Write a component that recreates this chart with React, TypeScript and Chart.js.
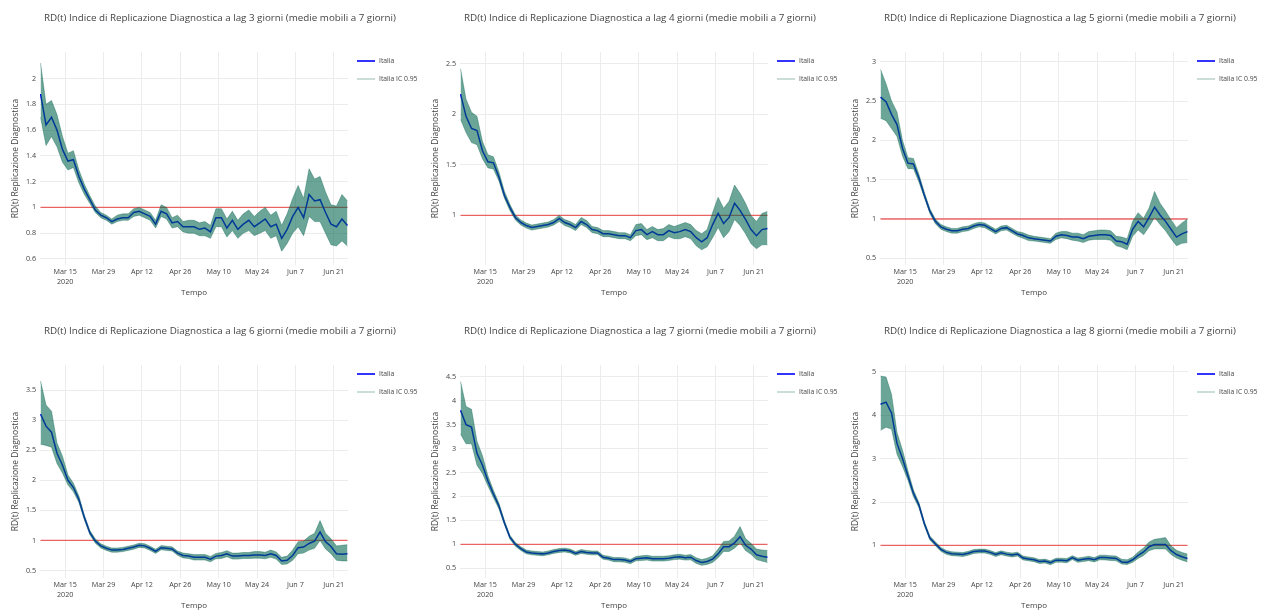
import React, { useEffect, useRef } from "react";
import { Chart, registerables } from "chart.js";

Chart.register(...registerables);

const FONT = '"Open Sans", "Liberation Sans", Arial, sans-serif';
const TEXT = "#444";
const GRID = "#ececec";
const LINE_BLUE = "rgb(0,0,255)";
const BAND_FILL = "rgba(0,100,75,0.58)";
const BAND_EDGE = "rgba(0,95,75,0.45)";
const BAND_LEGEND = "rgba(120,170,150,0.6)";
const REF_RED = "rgba(235,40,40,0.7)";

// Sampled dates (every second day) of the 7-day moving averages
const dates = [
  "2020-03-06", "2020-03-08", "2020-03-10", "2020-03-12", "2020-03-14", "2020-03-16", "2020-03-18",
  "2020-03-20", "2020-03-22", "2020-03-24", "2020-03-26", "2020-03-28", "2020-03-30",
  "2020-04-01", "2020-04-03", "2020-04-05", "2020-04-07", "2020-04-09", "2020-04-11", "2020-04-13",
  "2020-04-15", "2020-04-17", "2020-04-19", "2020-04-21", "2020-04-23", "2020-04-25", "2020-04-27", "2020-04-29",
  "2020-05-01", "2020-05-03", "2020-05-05", "2020-05-07", "2020-05-09", "2020-05-11", "2020-05-13", "2020-05-15",
  "2020-05-17", "2020-05-19", "2020-05-21", "2020-05-23", "2020-05-25", "2020-05-27", "2020-05-29", "2020-05-31",
  "2020-06-02", "2020-06-04", "2020-06-06", "2020-06-08", "2020-06-10", "2020-06-12", "2020-06-14",
  "2020-06-16", "2020-06-18", "2020-06-20", "2020-06-22", "2020-06-24", "2020-06-26",
];

const xTickDates = ["2020-03-15", "2020-03-29", "2020-04-12", "2020-04-26", "2020-05-10", "2020-05-24", "2020-06-07", "2020-06-21"];
const xTickLabels: (string | string[])[] = [["Mar 15", "2020"], "Mar 29", "Apr 12", "Apr 26", "May 10", "May 24", "Jun 7", "Jun 21"];

// lag 3
const lag3Mean = [1.88, 1.64, 1.70, 1.60, 1.45, 1.36, 1.37, 1.24, 1.14, 1.06, 0.98, 0.94, 0.92,
  0.89, 0.91, 0.92, 0.92, 0.96, 0.97, 0.95, 0.93, 0.87, 0.97, 0.95, 0.88, 0.89, 0.85, 0.85,
  0.85, 0.83, 0.84, 0.81, 0.92, 0.92, 0.84, 0.90, 0.83, 0.87, 0.90, 0.85, 0.88, 0.91, 0.85, 0.87,
  0.76, 0.83, 0.93, 1.00, 0.92, 1.10, 1.05, 1.06, 0.96, 0.87, 0.85, 0.91, 0.86];
const lag3Low = [1.70, 1.48, 1.55, 1.47, 1.35, 1.29, 1.31, 1.19, 1.10, 1.03, 0.96, 0.92, 0.90,
  0.87, 0.89, 0.90, 0.90, 0.93, 0.94, 0.92, 0.90, 0.84, 0.93, 0.91, 0.84, 0.85, 0.81, 0.80,
  0.80, 0.78, 0.78, 0.76, 0.85, 0.85, 0.77, 0.82, 0.76, 0.80, 0.82, 0.78, 0.80, 0.82, 0.76, 0.78,
  0.66, 0.72, 0.80, 0.85, 0.78, 0.93, 0.89, 0.89, 0.80, 0.71, 0.70, 0.74, 0.70];
const lag3High = [2.12, 1.80, 1.83, 1.72, 1.55, 1.42, 1.44, 1.29, 1.18, 1.09, 1.01, 0.96, 0.94,
  0.91, 0.94, 0.95, 0.95, 0.99, 1.00, 0.98, 0.96, 0.90, 1.02, 1.00, 0.92, 0.94, 0.89, 0.90,
  0.90, 0.88, 0.89, 0.86, 0.99, 0.99, 0.91, 0.97, 0.90, 0.95, 0.98, 0.93, 0.97, 1.00, 0.94, 0.97,
  0.86, 0.95, 1.07, 1.17, 1.07, 1.30, 1.22, 1.24, 1.12, 1.02, 1.01, 1.10, 1.05];
const lag3YTicks = [0.6, 0.8, 1, 1.2, 1.4, 1.6, 1.8, 2];
const lag3YRange = [0.553, 2.206];

// lag 4
const lag4Mean = [2.20, 1.98, 1.86, 1.84, 1.64, 1.53, 1.52, 1.38, 1.20, 1.08, 0.98, 0.93, 0.90,
  0.88, 0.89, 0.90, 0.91, 0.93, 0.97, 0.93, 0.91, 0.88, 0.94, 0.91, 0.86, 0.85, 0.82, 0.82,
  0.81, 0.80, 0.80, 0.78, 0.85, 0.86, 0.81, 0.84, 0.81, 0.81, 0.85, 0.83, 0.84, 0.86, 0.84, 0.78,
  0.74, 0.78, 0.91, 1.02, 0.92, 0.98, 1.12, 1.05, 0.96, 0.86, 0.80, 0.86, 0.87];
const lag4Low = [1.95, 1.82, 1.72, 1.70, 1.56, 1.47, 1.46, 1.34, 1.17, 1.05, 0.955, 0.905, 0.875,
  0.855, 0.865, 0.875, 0.885, 0.905, 0.94, 0.90, 0.88, 0.85, 0.91, 0.88, 0.83, 0.82, 0.79, 0.79,
  0.78, 0.77, 0.77, 0.75, 0.80, 0.81, 0.76, 0.78, 0.75, 0.75, 0.79, 0.77, 0.77, 0.79, 0.77, 0.70,
  0.66, 0.69, 0.78, 0.88, 0.78, 0.84, 0.96, 0.90, 0.82, 0.72, 0.67, 0.71, 0.71];
const lag4High = [2.45, 2.15, 2.02, 1.98, 1.73, 1.60, 1.58, 1.43, 1.24, 1.11, 1.005, 0.955, 0.925,
  0.905, 0.915, 0.925, 0.935, 0.96, 1.00, 0.96, 0.94, 0.91, 0.98, 0.95, 0.89, 0.88, 0.85, 0.85,
  0.84, 0.83, 0.83, 0.81, 0.91, 0.92, 0.86, 0.89, 0.86, 0.87, 0.91, 0.89, 0.91, 0.93, 0.91, 0.85,
  0.82, 0.86, 1.03, 1.18, 1.07, 1.14, 1.30, 1.22, 1.12, 1.00, 0.94, 1.02, 1.04];
const lag4YTicks = [1, 1.5, 2, 2.5];
const lag4YRange = [0.51, 2.616];

// lag 5
const lag5Mean = [2.55, 2.49, 2.33, 2.20, 1.90, 1.71, 1.70, 1.52, 1.30, 1.10, 0.97, 0.90, 0.87,
  0.85, 0.85, 0.87, 0.88, 0.91, 0.93, 0.92, 0.88, 0.84, 0.88, 0.89, 0.85, 0.81, 0.79, 0.76,
  0.75, 0.74, 0.73, 0.72, 0.78, 0.80, 0.79, 0.77, 0.77, 0.75, 0.78, 0.79, 0.80, 0.80, 0.79, 0.72,
  0.71, 0.68, 0.87, 0.97, 0.90, 1.02, 1.15, 1.05, 0.97, 0.87, 0.77, 0.81, 0.84];
const lag5Low = [2.28, 2.25, 2.15, 2.05, 1.80, 1.64, 1.64, 1.47, 1.27, 1.07, 0.94, 0.87, 0.84,
  0.82, 0.82, 0.84, 0.85, 0.88, 0.90, 0.89, 0.85, 0.81, 0.85, 0.86, 0.82, 0.78, 0.755, 0.725,
  0.72, 0.71, 0.70, 0.69, 0.74, 0.76, 0.75, 0.73, 0.72, 0.70, 0.73, 0.74, 0.74, 0.74, 0.73, 0.66,
  0.64, 0.61, 0.78, 0.86, 0.80, 0.90, 1.02, 0.93, 0.85, 0.75, 0.66, 0.69, 0.70];
const lag5High = [2.90, 2.72, 2.50, 2.36, 2.00, 1.78, 1.77, 1.57, 1.34, 1.13, 1.00, 0.93, 0.90,
  0.88, 0.88, 0.90, 0.91, 0.94, 0.96, 0.95, 0.91, 0.87, 0.91, 0.92, 0.88, 0.84, 0.825, 0.795,
  0.78, 0.77, 0.76, 0.75, 0.82, 0.84, 0.84, 0.82, 0.82, 0.80, 0.84, 0.85, 0.86, 0.86, 0.85, 0.78,
  0.77, 0.75, 0.97, 1.08, 1.01, 1.14, 1.35, 1.20, 1.10, 0.99, 0.89, 0.95, 1.00];
const lag5YTicks = [0.5, 1, 1.5, 2, 2.5, 3];
const lag5YRange = [0.415, 3.123];

// lag 6
const lag6Mean = [3.10, 2.90, 2.80, 2.45, 2.25, 2.00, 1.88, 1.68, 1.38, 1.13, 0.99, 0.91, 0.87,
  0.84, 0.84, 0.85, 0.87, 0.89, 0.92, 0.91, 0.87, 0.82, 0.88, 0.87, 0.86, 0.79, 0.75, 0.74,
  0.72, 0.72, 0.72, 0.69, 0.74, 0.75, 0.78, 0.74, 0.74, 0.75, 0.75, 0.76, 0.76, 0.75, 0.78, 0.75,
  0.66, 0.67, 0.75, 0.88, 0.89, 0.95, 0.99, 1.14, 0.98, 0.90, 0.78, 0.77, 0.78];
const lag6Low = [2.60, 2.58, 2.55, 2.28, 2.12, 1.92, 1.81, 1.63, 1.34, 1.095, 0.955, 0.875, 0.835,
  0.805, 0.805, 0.815, 0.835, 0.855, 0.885, 0.875, 0.835, 0.785, 0.845, 0.835, 0.825, 0.755, 0.71, 0.70,
  0.675, 0.675, 0.675, 0.645, 0.695, 0.70, 0.73, 0.69, 0.69, 0.70, 0.70, 0.705, 0.705, 0.695, 0.72, 0.69,
  0.60, 0.61, 0.67, 0.78, 0.79, 0.84, 0.87, 1.00, 0.86, 0.78, 0.67, 0.66, 0.66];
const lag6High = [3.65, 3.25, 3.15, 2.62, 2.40, 2.09, 1.95, 1.74, 1.42, 1.165, 1.025, 0.945, 0.905,
  0.875, 0.875, 0.885, 0.905, 0.925, 0.955, 0.945, 0.905, 0.855, 0.915, 0.905, 0.895, 0.825, 0.79, 0.78,
  0.765, 0.765, 0.765, 0.735, 0.785, 0.80, 0.83, 0.79, 0.79, 0.80, 0.80, 0.815, 0.815, 0.805, 0.84, 0.81,
  0.72, 0.74, 0.84, 0.98, 0.99, 1.07, 1.12, 1.33, 1.12, 1.03, 0.91, 0.92, 0.93];
const lag6YTicks = [0.5, 1, 1.5, 2, 2.5, 3, 3.5];
const lag6YRange = [0.376, 3.917];

// lag 7
const lag7Mean = [3.80, 3.50, 3.45, 2.90, 2.65, 2.32, 2.05, 1.80, 1.45, 1.15, 1.00, 0.91, 0.84,
  0.82, 0.81, 0.80, 0.82, 0.85, 0.87, 0.88, 0.86, 0.81, 0.85, 0.83, 0.82, 0.82, 0.73, 0.71,
  0.68, 0.68, 0.67, 0.64, 0.70, 0.71, 0.72, 0.70, 0.70, 0.70, 0.71, 0.73, 0.74, 0.72, 0.73, 0.66,
  0.62, 0.64, 0.69, 0.80, 0.95, 0.95, 1.03, 1.16, 0.98, 0.90, 0.78, 0.75, 0.73];
const lag7Low = [3.30, 3.10, 3.10, 2.65, 2.48, 2.22, 1.97, 1.74, 1.41, 1.11, 0.96, 0.87, 0.80,
  0.78, 0.77, 0.76, 0.78, 0.81, 0.83, 0.84, 0.82, 0.77, 0.81, 0.79, 0.78, 0.78, 0.69, 0.67,
  0.635, 0.635, 0.625, 0.595, 0.655, 0.66, 0.67, 0.65, 0.65, 0.65, 0.66, 0.68, 0.69, 0.67, 0.675, 0.60,
  0.56, 0.58, 0.62, 0.72, 0.85, 0.85, 0.92, 1.03, 0.87, 0.79, 0.68, 0.65, 0.62];
const lag7High = [4.40, 3.88, 3.82, 3.15, 2.85, 2.43, 2.13, 1.86, 1.50, 1.19, 1.04, 0.95, 0.88,
  0.86, 0.85, 0.84, 0.86, 0.89, 0.91, 0.92, 0.90, 0.85, 0.89, 0.87, 0.86, 0.86, 0.77, 0.75,
  0.725, 0.725, 0.715, 0.685, 0.745, 0.76, 0.77, 0.75, 0.75, 0.75, 0.76, 0.78, 0.79, 0.77, 0.785, 0.72,
  0.68, 0.71, 0.76, 0.90, 1.06, 1.07, 1.17, 1.37, 1.12, 1.02, 0.90, 0.88, 0.87];
const lag7YTicks = [0.5, 1, 1.5, 2, 2.5, 3, 3.5, 4, 4.5];
const lag7YRange = [0.296, 4.745];

// lag 8
const lag8Mean = [4.25, 4.30, 4.05, 3.35, 3.00, 2.60, 2.20, 1.93, 1.50, 1.17, 1.04, 0.91, 0.84,
  0.81, 0.80, 0.79, 0.82, 0.86, 0.87, 0.87, 0.84, 0.79, 0.83, 0.80, 0.78, 0.80, 0.71, 0.69,
  0.67, 0.63, 0.64, 0.60, 0.66, 0.66, 0.65, 0.72, 0.66, 0.68, 0.70, 0.67, 0.72, 0.72, 0.71, 0.70,
  0.62, 0.61, 0.67, 0.77, 0.85, 0.97, 1.02, 1.02, 1.02, 0.88, 0.79, 0.74, 0.70];
const lag8Low = [3.65, 3.72, 3.68, 3.10, 2.82, 2.50, 2.12, 1.87, 1.45, 1.125, 0.995, 0.865, 0.795,
  0.765, 0.755, 0.745, 0.775, 0.815, 0.825, 0.825, 0.795, 0.745, 0.785, 0.755, 0.735, 0.755, 0.665, 0.645,
  0.625, 0.585, 0.595, 0.555, 0.615, 0.615, 0.60, 0.675, 0.61, 0.63, 0.65, 0.62, 0.67, 0.665, 0.655, 0.645,
  0.57, 0.56, 0.61, 0.70, 0.77, 0.88, 0.92, 0.92, 0.92, 0.79, 0.71, 0.66, 0.62];
const lag8High = [4.90, 4.88, 4.48, 3.60, 3.20, 2.72, 2.28, 1.99, 1.55, 1.215, 1.085, 0.955, 0.885,
  0.855, 0.845, 0.835, 0.865, 0.905, 0.915, 0.915, 0.885, 0.835, 0.875, 0.845, 0.825, 0.845, 0.755, 0.735,
  0.715, 0.675, 0.685, 0.645, 0.705, 0.705, 0.70, 0.765, 0.71, 0.73, 0.75, 0.72, 0.775, 0.775, 0.765, 0.755,
  0.68, 0.67, 0.73, 0.85, 0.94, 1.08, 1.14, 1.16, 1.18, 0.99, 0.89, 0.84, 0.80];
const lag8YTicks = [1, 2, 3, 4, 5];
const lag8YRange = [0.25, 5.155];

const threshold = 1;

// Days since 1 March 2020
function toDay(iso: string): number {
  return (Date.parse(iso) - Date.parse("2020-03-01")) / 86400000;
}

const W = 420;
const H = 300;
const PLOT_LEFT = 40;
const PLOT_RIGHT = 348;
const PLOT_TOP = 52;
const PLOT_BOTTOM = 265;

type PanelProps = {
  left: number;
  top: number;
  lag: number;
  mean: number[];
  low: number[];
  high: number[];
  yTicks: number[];
  yRange: number[];
};

function Panel({ left, top, lag, mean, low, high, yTicks, yRange }: PanelProps) {
  const ref = useRef<HTMLCanvasElement | null>(null);

  useEffect(() => {
    if (!ref.current) return;
    const xs = dates.map(toDay);
    const tickDays = xTickDates.map(toDay);
    const pts = (vals: number[]) => vals.map((v, i) => ({ x: xs[i], y: v }));
    const title = `RD(t) Indice di Replicazione Diagnostica a lag ${lag} giorni (medie mobili a 7 giorni)`;

    // Panel heading and the two-entry legend at the top right
    const panelText = {
      id: "panelText",
      afterDraw(chart: any) {
        const ctx = chart.ctx;
        ctx.save();
        ctx.fillStyle = TEXT;
        ctx.font = `9.8px ${FONT}`;
        ctx.textAlign = "center";
        ctx.textBaseline = "middle";
        ctx.fillText(title, 220, 18);

        ctx.font = `6.8px ${FONT}`;
        ctx.textAlign = "left";
        let y = 61;
        chart.data.datasets.forEach((ds: any) => {
          if (!ds.legendColor) return;
          ctx.strokeStyle = ds.legendColor;
          ctx.lineWidth = ds.legendWidth;
          ctx.beginPath();
          ctx.moveTo(357, y);
          ctx.lineTo(375, y);
          ctx.stroke();
          ctx.fillStyle = TEXT;
          ctx.fillText(ds.label, 379, y);
          y += 18;
        });
        ctx.restore();
      },
    };

    const chart = new Chart(ref.current, {
      type: "line",
      data: {
        datasets: [
          {
            label: "Italia",
            data: pts(mean),
            borderColor: LINE_BLUE,
            borderWidth: 1.5,
            pointRadius: 0,
            fill: false,
            order: 2,
            legendColor: LINE_BLUE,
            legendWidth: 1.6,
          } as any,
          {
            label: "Italia IC 0.95",
            data: pts(high),
            borderColor: BAND_EDGE,
            borderWidth: 0.8,
            backgroundColor: BAND_FILL,
            fill: "+1",
            pointRadius: 0,
            order: 0,
            legendColor: BAND_LEGEND,
            legendWidth: 1.3,
          } as any,
          {
            label: "Italia IC 0.95 inf",
            data: pts(low),
            borderColor: BAND_EDGE,
            borderWidth: 0.8,
            pointRadius: 0,
            fill: false,
            order: 1,
          },
          {
            label: "RD(t) = 1",
            data: [
              { x: xs[0], y: threshold },
              { x: xs[xs.length - 1], y: threshold },
            ],
            borderColor: REF_RED,
            borderWidth: 1.3,
            pointRadius: 0,
            fill: false,
            order: 3,
          },
        ],
      },
      options: {
        animation: false,
        responsive: false,
        maintainAspectRatio: false,
        events: [],
        layout: { padding: { left: 0, right: W - PLOT_RIGHT, top: PLOT_TOP, bottom: 0 } },
        plugins: {
          legend: { display: false },
          title: { display: false },
          tooltip: { enabled: false },
        },
        scales: {
          x: {
            type: "linear",
            min: 4.8,
            max: 117.2,
            afterBuildTicks: (s: any) => {
              s.ticks = tickDays.map((v) => ({ value: v }));
            },
            afterFit: (s: any) => {
              s.height = H - PLOT_BOTTOM;
            },
            grid: { color: GRID, drawTicks: false, lineWidth: 1 },
            border: { display: false },
            ticks: {
              padding: 2,
              autoSkip: false,
              maxRotation: 0,
              color: TEXT,
              font: { family: FONT, size: 7.2, lineHeight: 1.35 },
              callback: (v: any) => {
                const i = tickDays.indexOf(Number(v));
                return i >= 0 ? xTickLabels[i] : "";
              },
            },
            title: {
              display: true,
              text: "Tempo",
              color: TEXT,
              font: { family: FONT, size: 8 },
              padding: { top: 0, bottom: 2 },
            },
          },
          y: {
            type: "linear",
            min: yRange[0],
            max: yRange[1],
            afterBuildTicks: (s: any) => {
              s.ticks = yTicks.map((v) => ({ value: v }));
            },
            afterFit: (s: any) => {
              s.width = PLOT_LEFT;
            },
            grid: { color: GRID, drawTicks: false, lineWidth: 1 },
            border: { display: false },
            ticks: {
              padding: 4,
              color: TEXT,
              font: { family: FONT, size: 7.2 },
              callback: (v: any) => String(v),
            },
            title: {
              display: true,
              text: "RD(t) Replicazione Diagnostica",
              color: TEXT,
              font: { family: FONT, size: 8.5 },
              padding: { top: 10, bottom: 0 },
            },
          },
        },
      } as any,
      plugins: [panelText],
    });
    return () => chart.destroy();
  }, [lag, mean, low, high, yTicks, yRange]);

  return (
    <canvas
      ref={ref}
      width={W}
      height={H}
      style={{ position: "absolute", left, top, width: W, height: H }}
    />
  );
}

const panels: PanelProps[] = [
  { left: 0, top: 0, lag: 3, mean: lag3Mean, low: lag3Low, high: lag3High, yTicks: lag3YTicks, yRange: lag3YRange },
  { left: 420, top: 0, lag: 4, mean: lag4Mean, low: lag4Low, high: lag4High, yTicks: lag4YTicks, yRange: lag4YRange },
  { left: 840, top: 0, lag: 5, mean: lag5Mean, low: lag5Low, high: lag5High, yTicks: lag5YTicks, yRange: lag5YRange },
  { left: 0, top: 313, lag: 6, mean: lag6Mean, low: lag6Low, high: lag6High, yTicks: lag6YTicks, yRange: lag6YRange },
  { left: 420, top: 313, lag: 7, mean: lag7Mean, low: lag7Low, high: lag7High, yTicks: lag7YTicks, yRange: lag7YRange },
  { left: 840, top: 313, lag: 8, mean: lag8Mean, low: lag8Low, high: lag8High, yTicks: lag8YTicks, yRange: lag8YRange },
];

export default function App() {
  return (
    <div
      style={{
        position: "fixed",
        left: 0,
        top: 0,
        width: 1267,
        height: 611,
        overflow: "hidden",
        background: "#fff",
      }}
    >
      {panels.map((p) => (
        <Panel key={p.lag} {...p} />
      ))}
    </div>
  );
}
